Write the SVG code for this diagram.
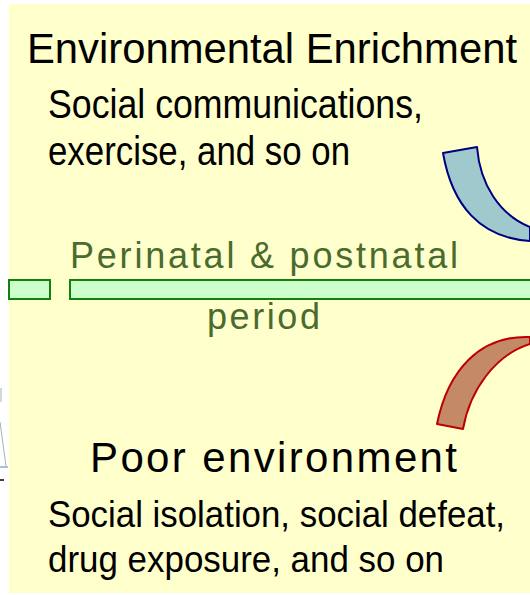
<svg xmlns="http://www.w3.org/2000/svg" width="530" height="595" viewBox="0 0 530 595">
  <style>
    .t { font-family: "Liberation Sans", Arial, sans-serif; fill: #000000; }
    .g { font-family: "Liberation Sans", Arial, sans-serif; fill: #4A6B2E; }
    .bar { fill: #CCFFCC; stroke: #108010; stroke-width: 2; }
    .frag { fill: none; stroke: #A8B0B8; stroke-width: 1; }
  </style>
  <rect width="530" height="595" fill="#FFFFFF"/>
  <g id="fragments">
    <line class="frag" x1="1" y1="388" x2="1" y2="402"/>
    <line class="frag" x1="0" y1="422" x2="6" y2="466"/>
    <line x1="0" y1="467" x2="8" y2="467" stroke="#8FA8C8" stroke-width="1.5"/>
    <line x1="0" y1="480" x2="4" y2="480" stroke="#000000" stroke-width="1.5"/>
  </g>
  <rect id="background" x="9" y="4" width="521" height="589" fill="#FFFFCC"/>

  <g id="timeline">
    <rect class="bar" x="9" y="280" width="41" height="19"/>
    <rect class="bar" x="70" y="280" width="462" height="19"/>
  </g>

  <g id="connectors">
    <path id="enrich-arrow" d="M443,153 C452,205 480,238 530,241 L530,227 C500,215 480,185 477,147 Z" fill="#9FC9CD" stroke="#000080" stroke-width="2" stroke-linejoin="round"/>
    <path id="poor-arrow" d="M437,424 C448,370 480,335 530,337 L530,344 C495,355 470,390 463,429 Z" fill="#C48A68" stroke="#C00000" stroke-width="2" stroke-linejoin="round"/>
  </g>

  <g id="enrichment">
    <text class="t" x="27" y="63" font-size="43" textLength="490" lengthAdjust="spacingAndGlyphs">Environmental Enrichment</text>
    <text class="t" x="48" y="118" font-size="41" textLength="375" lengthAdjust="spacingAndGlyphs">Social communications,</text>
    <text class="t" x="48" y="165" font-size="41" textLength="302" lengthAdjust="spacingAndGlyphs">exercise, and so on</text>
  </g>

  <g id="period">
    <text class="g" x="70" y="268" font-size="36" textLength="388">Perinatal &amp; postnatal</text>
    <text class="g" x="207" y="329" font-size="36" textLength="113">period</text>
  </g>

  <g id="poor">
    <text class="t" x="90" y="472" font-size="42" textLength="367">Poor environment</text>
    <text class="t" x="48" y="527" font-size="36" textLength="457" lengthAdjust="spacingAndGlyphs">Social isolation, social defeat,</text>
    <text class="t" x="48" y="572" font-size="36" textLength="396" lengthAdjust="spacingAndGlyphs">drug exposure, and so on</text>
  </g>
</svg>
